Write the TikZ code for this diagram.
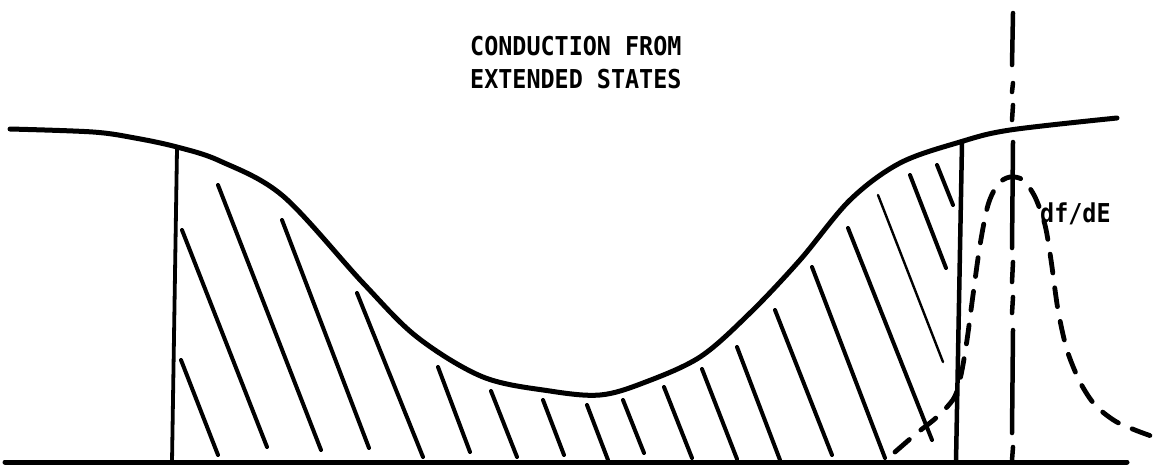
\documentclass[tikz,border=0pt]{standalone}
\usepackage{fontspec}
\newfontfamily\letterfont{DejaVu Sans Mono}
\begin{document}
\begin{tikzpicture}[x=1pt,y=-1pt,
  curve/.style={line width=5pt,line cap=round,line join=round},
  hatch/.style={line width=4pt,line cap=round},
  thinhatch/.style={line width=2.4pt,line cap=round},
  edge/.style={line width=4.5pt,line cap=round},
  dline/.style={line width=4.8pt,line cap=round,dash pattern=on 19pt off 15pt},
  lbl/.style={inner sep=0pt,anchor=base west,font=\letterfont\bfseries\fontsize{26}{33}\selectfont}]
\useasboundingbox (0,0) rectangle (1154,467);
% base line
\coordinate (b0) at (5,462);
\coordinate (b1) at (1127,462);
\draw[curve] (b0) -- (b1);
% density of states curve
\draw[curve] plot[smooth,tension=0.55] coordinates {(10,129) (93,132) (135,138) (177,147) (220,161) (283,196) (363,283) (417,337) (483,377) (550,391) (600,395) (643,383) (700,357) (750,313) (800,260) (850,200) (900,163) (960,142) (1010,130) (1117,118)};
% vertical boundaries
\coordinate (l0) at (177,149); \coordinate (l1) at (172,462);
\draw[line width=3.8pt] (l0) -- (l1);
\coordinate (r0) at (962,143); \coordinate (r1) at (956,462);
\draw[edge] (r0) -- (r1);
% hatching
\foreach \xa/\ya/\xb/\yb in {181/360/218/455, 182/230/267/447, 218/185/321/450, 282/220/369/448, 357/293/423/457, 438/367/470/452, 491/391/517/457, 543/400/564/455, 587/405/608/460, 623/400/644/453, 664/387/692/458, 702/369/737/459, 737/347/780/460, 775/310/832/455, 812/267/885/458, 848/228/932/440, 910/175/946/268, 937/165/953/205}
  \draw[hatch] (\xa,\ya) -- (\xb,\yb);
\draw[thinhatch] (878,195) -- (943,362);
% vertical dash-dot line (Fermi level)
\foreach \ya/\yb in {13/65, 83/92, 105/120, 142/248, 262/282, 297/313, 330/433, 447/460}
  \draw[edge] (1013,\ya) -- (1012,\yb);
% df/dE dashed curve
\draw[dline] plot[smooth,tension=0.5] coordinates {(895,452) (917,433) (937,417) (954,398) (961,375) (967,340) (973,295) (980,245) (988,205) (998,184) (1010,177) (1023,180) (1035,197) (1045,225) (1051,260) (1058,310) (1067,350) (1080,382) (1095,405) (1115,421) (1135,430) (1154,437)};
% labels
\node[lbl] (t1) at (470,55) {\scalebox{0.9}[1]{CONDUCTION FROM}};
\node[lbl] (t2) at (470,88) {\scalebox{0.9}[1]{EXTENDED STATES}};
\node[lbl] (t3) at (1040,222) {\scalebox{0.9}[1]{df/dE}};
\end{tikzpicture}
\end{document}
